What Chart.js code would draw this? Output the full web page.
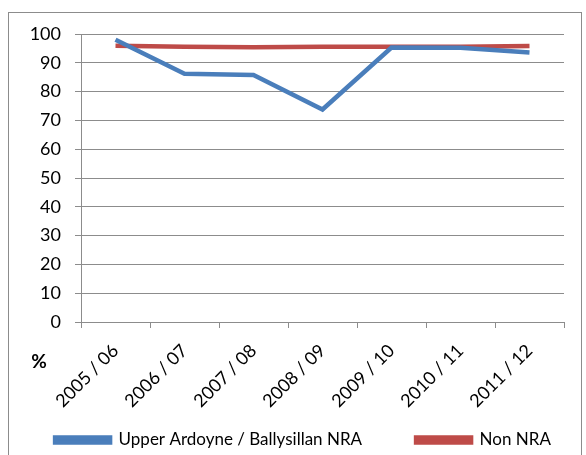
<!DOCTYPE html>
<html>
<head>
<meta charset="utf-8">
<script src="https://cdn.jsdelivr.net/npm/chart.js@4"></script>
<style>
  body { margin: 0; background: #fff; }
  #wrap { position: relative; width: 586px; height: 455px; overflow: hidden; }
  #frame { position: absolute; left: 8px; top: 12px; width: 574px; height: 460px; border: 1px solid #8c8c8c; box-sizing: border-box; }
  canvas { position: absolute; left: 0; top: 0; }
</style>
</head>
<body>
<div id="wrap">
  <div id="frame"></div>
  <canvas id="chart" width="586" height="455"></canvas>
</div>
<script>
// categories and values
const years = ['2005 / 06', '2006 / 07', '2007 / 08', '2008 / 09', '2009 / 10', '2010 / 11', '2011 / 12'];
const upperArdoyne = [98.0, 86.2, 85.8, 73.8, 95.3, 95.2, 93.6];
const nonNRA = [95.9, 95.6, 95.4, 95.6, 95.6, 95.6, 95.8];
const yTicks = [0, 10, 20, 30, 40, 50, 60, 70, 80, 90, 100];

const fontFamily = "Lato, 'Open Sans', sans-serif";

// the "%" label sitting bottom-left of the plot
const percentLabel = {
    id: 'percentLabel',
    afterLayout(chart) {
        // nudge the legend a little right, like the original
        chart.legend.left += 8;
        chart.legend.right += 8;
    },
    afterDraw(chart) {
        const ctx = chart.ctx;
        const area = chart.chartArea;
        ctx.save();
        ctx.font = "bold 19px " + fontFamily;
        ctx.fillStyle = '#000';
        ctx.textAlign = 'center';
        ctx.textBaseline = 'middle';
        ctx.fillText('%', area.left - 42, area.bottom + 40);
        ctx.restore();
    }
};

new Chart(document.getElementById('chart').getContext('2d'), {
    type: 'line',
    data: {
        labels: years,
        datasets: [{
            label: 'Upper Ardoyne / Ballysillan NRA',
            data: upperArdoyne,
            borderColor: '#4A7EBB',
            backgroundColor: '#4A7EBB',
            borderWidth: 4.5,
            pointRadius: 0,
            tension: 0
        }, {
            label: 'Non NRA',
            data: nonNRA,
            borderColor: '#BE4B48',
            backgroundColor: '#BE4B48',
            borderWidth: 4.5,
            pointRadius: 0,
            tension: 0
        }]
    },
    options: {
        responsive: false,
        animation: false,
        layout: { padding: { top: 34, right: 22, left: 26, bottom: -3.5 } },
        plugins: {
            legend: {
                position: 'bottom',
                labels: {
                    boxWidth: 55,
                    boxHeight: 5,
                    padding: 3,
                    color: '#000',
                    font: { family: fontFamily, size: 17 },
                    // widen the gap after the first item (legend padding would also grow its height)
                    generateLabels(chart) {
                        const items = Chart.defaults.plugins.legend.labels.generateLabels(chart);
                        items.forEach((it, i) => { if (i < items.length - 1) it.text += '\u2003\u2003\u2003\u2003'; });
                        return items;
                    }
                }
            },
            tooltip: { enabled: false }
        },
        scales: {
            x: {
                offset: true,
                grid: {
                    offset: true,
                    drawOnChartArea: false,
                    drawTicks: true,
                    tickLength: 6,
                    color: '#8c8c8c'
                },
                border: { color: '#8c8c8c', width: 1 },
                ticks: {
                    minRotation: 45,
                    maxRotation: 45,
                    color: '#000',
                    padding: 12,
                    font: { family: fontFamily, size: 18 }
                },
                afterFit(scale) { scale.height = 106.5; }
            },
            y: {
                min: 0,
                max: 100,
                afterBuildTicks(scale) { scale.ticks = yTicks.map(v => ({ value: v })); },
                grid: { color: '#8c8c8c', tickLength: 6 },
                border: { color: '#8c8c8c', width: 1 },
                ticks: {
                    color: '#000',
                    padding: 14,
                    font: { family: fontFamily, size: 18 }
                },
                afterFit(scale) { scale.width = 55; }
            }
        }
    },
    plugins: [percentLabel]
});
</script>
</body>
</html>
